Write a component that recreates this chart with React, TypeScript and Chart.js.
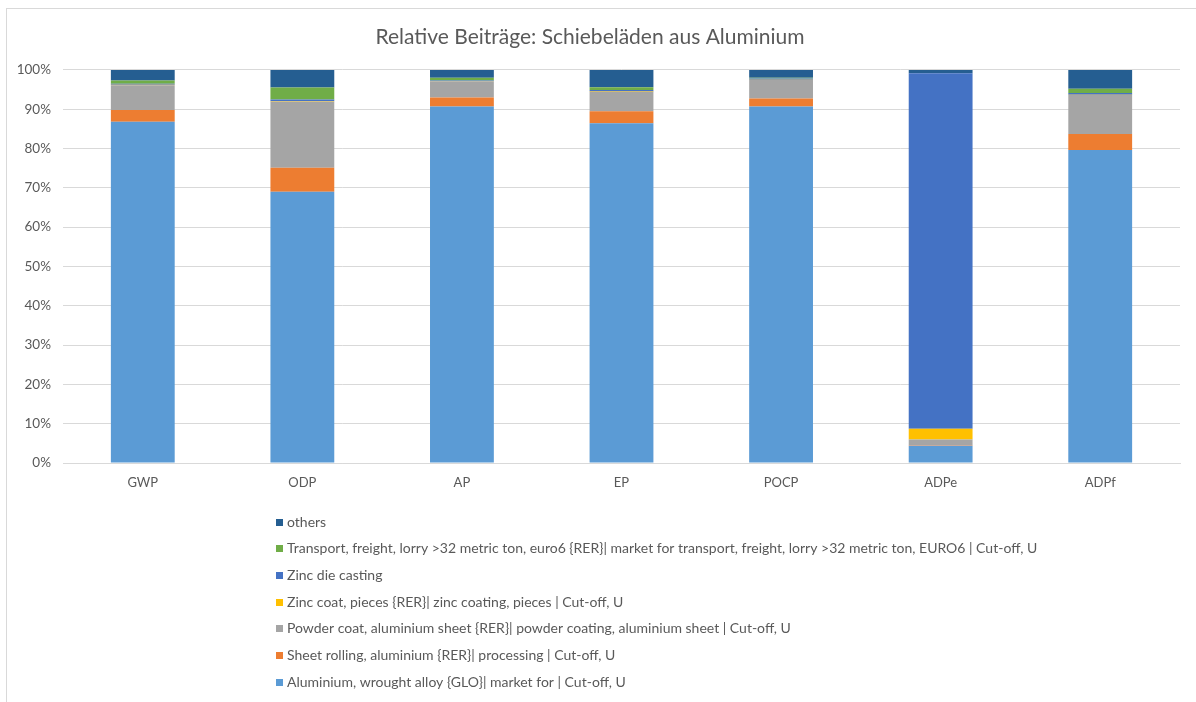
import React, { useEffect, useRef } from "react";
import { Chart, registerables } from "chart.js";

Chart.register(...registerables);

const categories = ["GWP", "ODP", "AP", "EP", "POCP", "ADPe", "ADPf"];

const seriesNames = [
  "Aluminium, wrought alloy {GLO}| market for | Cut-off, U",
  "Sheet rolling, aluminium {RER}| processing | Cut-off, U",
  "Powder coat, aluminium sheet {RER}| powder coating, aluminium sheet | Cut-off, U",
  "Zinc coat, pieces {RER}| zinc coating, pieces | Cut-off, U",
  "Zinc die casting",
  "Transport, freight, lorry >32 metric ton, euro6 {RER}| market for transport, freight, lorry >32 metric ton, EURO6 | Cut-off, U",
  "others",
];

const aluminium = [86.8, 69.0, 90.7, 86.4, 90.7, 4.4, 79.6];
const sheetRolling = [3.0, 6.1, 2.3, 3.1, 2.0, 0.1, 4.1];
const powderCoat = [6.3, 16.8, 4.1, 4.9, 4.7, 1.5, 9.9];
const zincCoat = [0.1, 0.1, 0.1, 0.1, 0.1, 2.7, 0.1];
const zincDieCasting = [0.3, 0.5, 0.1, 0.4, 0.3, 90.45, 0.4];
const transport = [0.8, 3.0, 0.7, 0.7, 0.2, 0.0, 1.1];
const others = [2.7, 4.5, 2.0, 4.4, 2.0, 0.85, 4.8];

const seriesValues = [aluminium, sheetRolling, powderCoat, zincCoat, zincDieCasting, transport, others];
const seriesColors = ["#5B9BD5", "#ED7D31", "#A5A5A5", "#FFC000", "#4472C4", "#70AD47", "#255E91"];

const yTicks = [0, 10, 20, 30, 40, 50, 60, 70, 80, 90, 100];

const FONT = "Lato, 'Open Sans', sans-serif";
const TEXT = "#595959";

const legendPlugin = {
  id: "columnLegend",
  afterDraw(chart: any) {
    const ctx = chart.ctx;
    const ds = chart.data.datasets;
    const top = chart.chartArea.bottom + 59;
    const step = 26.67;
    ctx.save();
    ctx.font = `14px ${FONT}`;
    ctx.textBaseline = "middle";
    ctx.textAlign = "left";
    for (let i = ds.length - 1, row = 0; i >= 0; i--, row++) {
      const y = top + row * step;
      ctx.fillStyle = ds[i].backgroundColor;
      ctx.fillRect(276, Math.round(y - 3.5), 7, 7);
      ctx.fillStyle = TEXT;
      ctx.fillText(ds[i].label, 287, y);
    }
    ctx.restore();
  },
};

export default function App() {
  const ref = useRef<HTMLCanvasElement>(null);
  useEffect(() => {
    document.body.style.margin = "0";
    const chart = new Chart(ref.current!, {
      type: "bar",
      data: {
        labels: categories,
        datasets: seriesValues.map((vals, i) => ({
          label: seriesNames[i],
          data: vals,
          backgroundColor: seriesColors[i],
          borderWidth: 0,
          categoryPercentage: 1,
          barPercentage: 0.4,
        })),
      },
      options: {
        animation: false,
        responsive: false,
        maintainAspectRatio: false,
        layout: { padding: { left: 0, right: 16, top: 0, bottom: 200 } },
        plugins: {
          legend: { display: false },
          tooltip: { enabled: false },
          title: {
            display: true,
            text: "Relative Beiträge: Schiebeläden aus Aluminium",
            color: TEXT,
            font: { family: FONT, size: 21, weight: "normal" },
            padding: { top: 24.4, bottom: 20.3 },
          },
        },
        scales: {
          x: {
            stacked: true,
            grid: { display: false, drawTicks: false },
            border: { display: true, color: "#D9D9D9" },
            ticks: { color: TEXT, font: { family: FONT, size: 13 }, padding: 12 },
            afterFit: (s: any) => { s.height = 39; },
          },
          y: {
            stacked: true,
            min: 0,
            max: 100,
            afterBuildTicks: (s: any) => { s.ticks = yTicks.map((v) => ({ value: v })); },
            grid: { color: "#D9D9D9", drawTicks: false },
            border: { display: false },
            ticks: {
              color: TEXT,
              font: { family: FONT, size: 13.5 },
              padding: 12,
              callback: (v: any) => v + "%",
            },
            afterFit: (s: any) => { s.width = 63; },
          },
        },
      },
      plugins: [legendPlugin],
    });
    return () => chart.destroy();
  }, []);

  return (
    <div style={{ position: "relative", width: 1196, height: 702, overflow: "hidden", background: "#fff" }}>
      <div
        style={{
          position: "absolute",
          left: 6,
          top: 8,
          width: 1300,
          height: 800,
          border: "1px solid #D9D9D9",
        }}
      />
      <canvas ref={ref} width={1196} height={702} style={{ position: "absolute", left: 0, top: 0 }} />
    </div>
  );
}
